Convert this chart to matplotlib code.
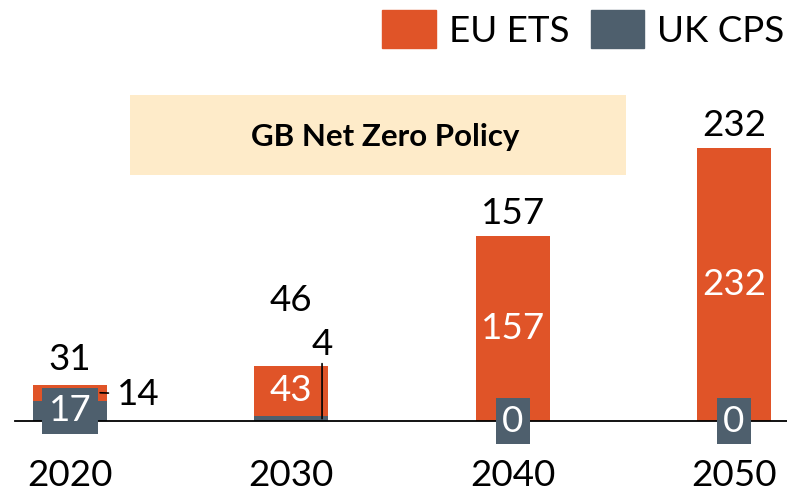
import matplotlib.pyplot as plt
import numpy as np
from matplotlib.patches import Patch, Rectangle

plt.rcParams['font.family'] = ['Lato', 'DejaVu Sans']

# data
years = ['2020', '2030', '2040', '2050']
eu_ets = [14, 43, 157, 232]
uk_cps = [17, 4, 0, 0]
totals = [31, 46, 157, 232]

orange = '#E05428'
slate = '#4E5F6D'

fig = plt.figure(figsize=(7.87, 4.90), dpi=100)
ax = fig.add_axes([15 / 787, 69 / 490, 772 / 787, 421 / 490])

x = np.arange(len(years))
w = 0.334
ax.bar(x, uk_cps, w, color=slate, zorder=2)
ax.bar(x, eu_ets, w, bottom=uk_cps, color=orange, zorder=2)

ax.set_xlim(-0.2485, 3.24)
ax.set_ylim(0, 357.8)
for s in ['top', 'right', 'left']:
    ax.spines[s].set_visible(False)
ax.spines['bottom'].set_color('black')
ax.spines['bottom'].set_linewidth(1.3)
ax.set_yticks([])
ax.set_xticks(x)
fs = 26.5
ax.set_xticklabels(years, fontsize=fs)
ax.tick_params(axis='x', length=0, pad=27)

# totals above bars
tot_off = [18, 47, 16.5, 16.5]
for i, t in enumerate(totals):
    ax.annotate(str(t), (x[i], eu_ets[i] + uk_cps[i]), xytext=(0, tot_off[i]),
                textcoords='offset points', ha='center', va='center', fontsize=fs)

# segment labels
for i in range(len(years)):
    # EU ETS
    if i == 0:
        ax.annotate(str(eu_ets[i]), (x[i] + 0.136, uk_cps[i] + eu_ets[i] / 2),
                    xytext=(12, -1), textcoords='offset points', ha='left', va='center',
                    fontsize=fs, arrowprops=dict(arrowstyle='-', lw=1.2, color='black',
                                                 shrinkA=4, shrinkB=0))
    else:
        ax.text(x[i], uk_cps[i] + eu_ets[i] / 2, str(eu_ets[i]), ha='center', va='center',
                fontsize=fs, color='white', zorder=4)
    # UK CPS
    if i == 1:
        ax.annotate(str(uk_cps[i]), (x[i] + w / 2 - 0.028, uk_cps[i] / 2),
                    xytext=(0, 53.5), textcoords='offset points', ha='center', va='center',
                    fontsize=fs, arrowprops=dict(arrowstyle='-', lw=1.2, color='black',
                                                 shrinkA=0, shrinkB=0))
    else:
        ax.text(x[i], uk_cps[i] / 2, str(uk_cps[i]), ha='center', va='center',
                fontsize=fs, color='white', zorder=4,
                bbox=dict(boxstyle='square,pad=0.17', fc=slate, ec='none'))

# policy label box
ax.add_patch(Rectangle((130 / 787, (490 - 175) / 490), 496 / 787, 80 / 490,
                       transform=fig.transFigure, fc='#FEEBC9', ec='none', zorder=0))
ax.text(385.5 / 787, (490 - 137) / 490, 'GB Net Zero Policy', transform=fig.transFigure,
        ha='center', va='center', fontsize=22.5, fontweight='bold', zorder=3)

handles = [Patch(color=orange, label='EU ETS'), Patch(color=slate, label='UK CPS')]
fig.legend(handles=handles, loc='upper right', bbox_to_anchor=(1.004, 0.99), ncol=2,
           frameon=False, fontsize=fs, handlelength=1.45, handleheight=1.2,
           handletextpad=0.35, columnspacing=0.6, borderaxespad=0.0, borderpad=0.15)

fig.savefig('out.png', dpi=100)
